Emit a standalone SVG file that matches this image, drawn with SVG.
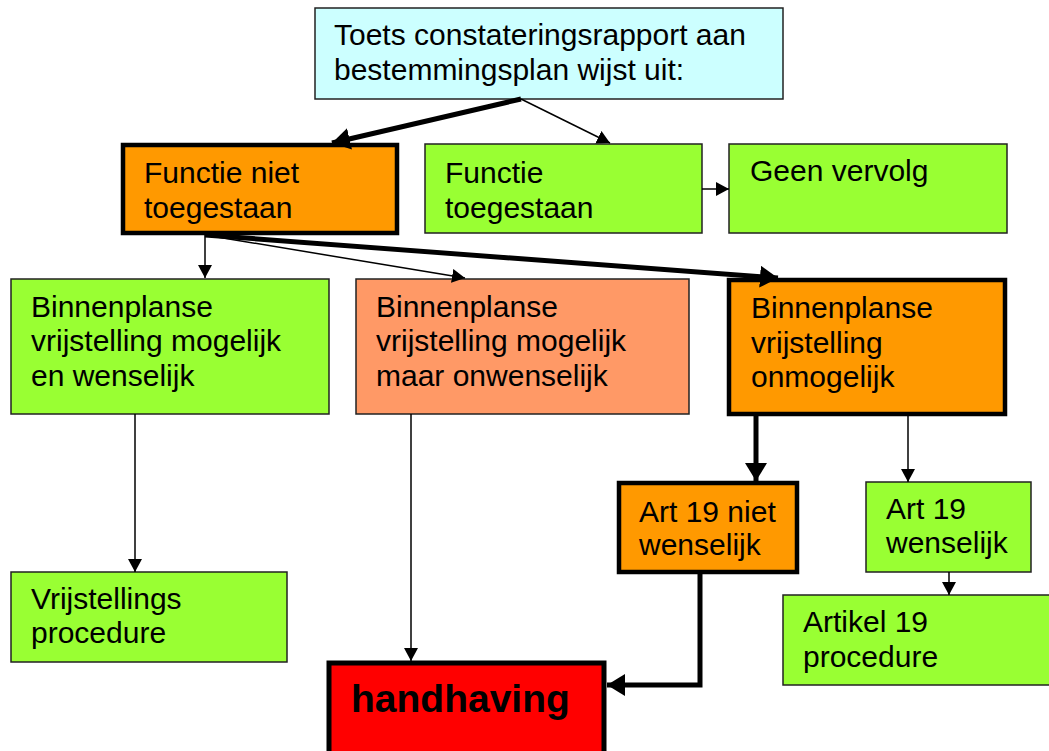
<svg xmlns="http://www.w3.org/2000/svg" width="1049" height="751" viewBox="0 0 1049 751">
<style>
text { font-family: "Liberation Sans", Arial, sans-serif; font-size: 30px; fill: #000; }
.thin { stroke: #000; stroke-width: 1.5; fill: none; }
.thick { stroke: #000; stroke-width: 5; fill: none; }
.box { stroke: #222; stroke-width: 1.5; }
.boxb { stroke: #000; stroke-width: 4.5; }
.hh { font-weight: bold; font-size: 39px; }
</style>
<defs>
<marker id="a" markerUnits="userSpaceOnUse" markerWidth="14" markerHeight="14" refX="13" refY="7" orient="auto">
<path d="M0,0 L13,7 L0,14 Z" fill="#000"/>
</marker>
<marker id="A" markerUnits="userSpaceOnUse" markerWidth="20" markerHeight="22" refX="18" refY="11" orient="auto">
<path d="M0,0 L18,11 L0,22 Z" fill="#000"/>
</marker>
</defs>
<rect width="1049" height="751" fill="#fff"/>
<g id="n-top">
<rect class="box" x="315" y="8" width="468" height="91" fill="#CCFFFF"/>
<text x="334" y="45">Toets constateringsrapport aan</text>
<text x="334" y="80">bestemmingsplan wijst uit:</text>
</g>
<g id="n-functie-niet">
<rect class="boxb" x="123" y="145" width="274" height="88" fill="#FF9900"/>
<text x="144" y="183">Functie niet</text>
<text x="144" y="218">toegestaan</text>
</g>
<g id="n-functie">
<rect class="box" x="425" y="144" width="277" height="89" fill="#99FF33"/>
<text x="445" y="183">Functie</text>
<text x="445" y="218">toegestaan</text>
</g>
<g id="n-geen">
<rect class="box" x="729" y="144" width="278" height="89" fill="#99FF33"/>
<text x="750" y="181">Geen vervolg</text>
</g>
<g id="n-bin-a">
<rect class="box" x="11" y="279" width="318" height="135" fill="#99FF33"/>
<text x="31" y="317">Binnenplanse</text>
<text x="31" y="351">vrijstelling mogelijk</text>
<text x="31" y="386">en wenselijk</text>
</g>
<g id="n-bin-b">
<rect class="box" x="356" y="279" width="333" height="135" fill="#FF9966"/>
<text x="376" y="317">Binnenplanse</text>
<text x="376" y="351">vrijstelling mogelijk</text>
<text x="376" y="386">maar onwenselijk</text>
</g>
<g id="n-bin-c">
<rect class="boxb" x="729" y="280" width="276" height="134" fill="#FF9900"/>
<text x="751" y="318">Binnenplanse</text>
<text x="751" y="353">vrijstelling</text>
<text x="751" y="387">onmogelijk</text>
</g>
<g id="n-art-niet">
<rect class="boxb" x="619" y="483" width="178" height="89" fill="#FF9900"/>
<text x="639" y="522">Art 19 niet</text>
<text x="639" y="555">wenselijk</text>
</g>
<g id="n-art-wens">
<rect class="box" x="866" y="482" width="165" height="90" fill="#99FF33"/>
<text x="886" y="519">Art 19</text>
<text x="886" y="553">wenselijk</text>
</g>
<g id="n-artikel">
<rect class="box" x="783" y="595" width="270" height="90" fill="#99FF33"/>
<text x="803" y="632">Artikel 19</text>
<text x="803" y="667">procedure</text>
</g>
<g id="n-vrij">
<rect class="box" x="11" y="572" width="276" height="90" fill="#99FF33"/>
<text x="31" y="609">Vrijstellings</text>
<text x="31" y="643">procedure</text>
</g>
<g id="n-handhaving">
<rect x="329" y="663" width="275" height="100" fill="#FF0000" stroke="#000" stroke-width="5"/>
<text class="hh" x="351" y="712">handhaving</text>
</g>
<g id="connectors">
<line class="thick" x1="521" y1="99" x2="332" y2="143" marker-end="url(#A)"/>
<line class="thin" x1="521" y1="99" x2="610" y2="143" marker-end="url(#a)"/>
<line class="thin" x1="702" y1="189" x2="729" y2="189" marker-end="url(#a)"/>
<line class="thin" x1="205" y1="235" x2="205" y2="278" marker-end="url(#a)"/>
<line class="thin" x1="205" y1="235" x2="465" y2="278" marker-end="url(#a)"/>
<line class="thick" x1="205" y1="235" x2="778" y2="278" marker-end="url(#A)"/>
<line class="thin" x1="135" y1="414" x2="135" y2="572" marker-end="url(#a)"/>
<line class="thin" x1="411" y1="414" x2="411" y2="661" marker-end="url(#a)"/>
<line class="thick" x1="756" y1="416" x2="756" y2="481" marker-end="url(#A)"/>
<line class="thin" x1="908" y1="414" x2="908" y2="482" marker-end="url(#a)"/>
<line class="thin" x1="949" y1="572" x2="949" y2="595" marker-end="url(#a)"/>
<polyline class="thick" points="700,574 700,685 607,685" marker-end="url(#A)"/>
</g>
</svg>
